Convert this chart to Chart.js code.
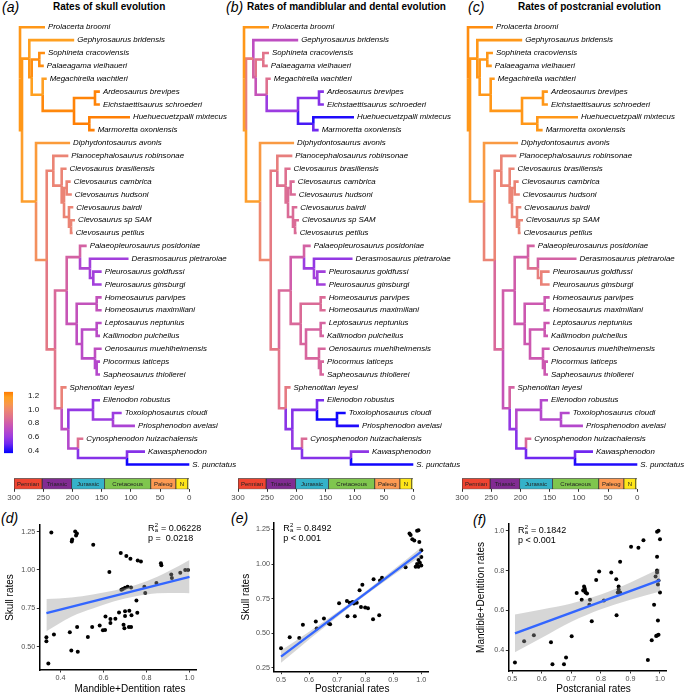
<!DOCTYPE html>
<html>
<head>
<meta charset="utf-8">
<title>Rates of evolution</title>
<script src="https://cdn.jsdelivr.net/npm/chart.js@4.4.1/dist/chart.umd.min.js"></script>
<style>
  html, body { margin: 0; padding: 0; background: #fff; }
  #fig { position: relative; width: 685px; height: 695px; overflow: hidden; font-family: "Liberation Sans", Arial, sans-serif; color: #000; }
  #fig canvas { position: absolute; }
  .txt { position: absolute; white-space: nowrap; }
  .letter { font-style: italic; font-size: 14px; line-height: 16px; }
  .head { font-weight: bold; font-size: 10px; line-height: 12px; }
</style>
</head>
<body>
<div id="fig">
  <div class="txt letter" style="left:2px;top:-1px">(a)</div>
  <div class="txt head" style="left:53px;top:1px">Rates of skull evolution</div>
  <div class="txt letter" style="left:226px;top:-1px">(b)</div>
  <div class="txt head" style="left:247px;top:1px">Rates of mandiblular and dental evolution</div>
  <div class="txt letter" style="left:468px;top:-1px">(c)</div>
  <div class="txt head" style="left:518px;top:1px">Rates of postcranial evolution</div>
  <div class="txt letter" style="left:1px;top:510px">(d)</div>
  <div class="txt letter" style="left:231px;top:510px">(e)</div>
  <div class="txt letter" style="left:473px;top:512px">(f)</div>

  <canvas id="treeA" width="245" height="478" style="left:0;top:0"></canvas>
  <canvas id="treeB" width="245" height="478" style="left:224px;top:0"></canvas>
  <canvas id="treeC" width="245" height="478" style="left:448px;top:0"></canvas>
  <canvas id="geoA" width="245" height="32" style="left:0;top:472px"></canvas>
  <canvas id="geoB" width="245" height="32" style="left:224px;top:472px"></canvas>
  <canvas id="geoC" width="245" height="32" style="left:448px;top:472px"></canvas>
  <canvas id="colorbar" width="40" height="85" style="left:0;top:380px"></canvas>
  <canvas id="scatD" width="228" height="192" style="left:0;top:505px"></canvas>
  <canvas id="scatE" width="228" height="192" style="left:228px;top:505px"></canvas>
  <canvas id="scatF" width="229" height="192" style="left:456px;top:505px"></canvas>
</div>
<script>
// ---------- tree data ----------
const tipNames = [
  "Prolacerta broomi", "Gephyrosaurus bridensis", "Sophineta cracoviensis", "Palaeagama vielhaueri",
  "Megachirella wachtleri", "Ardeosaurus brevipes", "Eichstaettisaurus schroederi", "Huehuecuetzpalli mixtecus",
  "Marmoretta oxoniensis", "Diphydontosaurus avonis", "Planocephalosaurus robinsonae", "Clevosaurus brasiliensis",
  "Clevosaurus cambrica", "Clevosaurus hudsoni", "Clevosaurus bairdi", "Clevosaurus sp SAM",
  "Clevosaurus petilus", "Palaeopleurosaurus posidoniae", "Derasmosaurus pietraroiae", "Pleurosaurus goldfussi",
  "Pleurosaurus ginsburgi", "Homeosaurus parvipes", "Homeosaurus maximiliani", "Leptosaurus neptunius",
  "Kallimodon pulchellus", "Oenosaurus muehlheimensis", "Piocormus laticeps", "Sapheosaurus thiollerei",
  "Sphenotitan leyesi", "Eilenodon robustus", "Toxolophosaurus cloudi", "Priosphenodon avelasi",
  "Cynosphenodon huizachalensis", "Kawasphenodon", "S. punctatus"
];
// tip ages (Ma)
const tipAges = [247, 197, 247, 249, 244, 153, 153, 101.5, 162, 204, 207, 210, 203, 201, 198.5, 195.6,
  199.6, 175.6, 104, 150, 150, 150, 150, 150, 152.8, 150, 152.8, 152.8, 210, 152.8, 115.7, 93, 181.4, 75.8, 0];

const nodeNames = ["root", "L", "A", "B", "SP", "C", "D", "E", "F", "R", "R2", "P", "CV", "CV2", "CH", "CB", "CB2",
  "Q", "Sap", "Pl", "Pl2", "PP", "HLO", "HO", "LO", "LK", "OE", "PS", "T", "U", "OP", "TP", "SK", "KS"];
const nodeAges = [289.7, 286.3, 273.8, 269.7, 256.7, 250.9, 197.3, 161.4, 171.1, 262.3, 244, 232.7, 218.4, 214.4,
  209.8, 205.9, 202.4, 229.8, 209.8, 187, 170, 164.3, 192.7, 158.5, 183.6, 158.5, 161.4, 158.5, 218.4, 207,
  164.8, 130.6, 190.5, 106.6];
const nodeChildren = [
  ["Prolacerta broomi", "L"], ["A", "R"], ["Gephyrosaurus bridensis", "B"], ["SP", "C"],
  ["Sophineta cracoviensis", "Palaeagama vielhaueri"], ["Megachirella wachtleri", "D"], ["E", "F"],
  ["Ardeosaurus brevipes", "Eichstaettisaurus schroederi"], ["Huehuecuetzpalli mixtecus", "Marmoretta oxoniensis"],
  ["Diphydontosaurus avonis", "R2"], ["P", "Q"], ["Planocephalosaurus robinsonae", "CV"],
  ["Clevosaurus brasiliensis", "CV2"], ["CH", "CB"], ["Clevosaurus cambrica", "Clevosaurus hudsoni"],
  ["Clevosaurus bairdi", "CB2"], ["Clevosaurus sp SAM", "Clevosaurus petilus"], ["Sap", "T"], ["Pl", "HLO"],
  ["Palaeopleurosaurus posidoniae", "Pl2"], ["Derasmosaurus pietraroiae", "PP"],
  ["Pleurosaurus goldfussi", "Pleurosaurus ginsburgi"], ["HO", "LO"],
  ["Homeosaurus parvipes", "Homeosaurus maximiliani"], ["LK", "OE"],
  ["Leptosaurus neptunius", "Kallimodon pulchellus"], ["Oenosaurus muehlheimensis", "PS"],
  ["Piocormus laticeps", "Sapheosaurus thiollerei"], ["Sphenotitan leyesi", "U"], ["OP", "SK"],
  ["Eilenodon robustus", "TP"], ["Toxolophosaurus cloudi", "Priosphenodon avelasi"],
  ["Cynosphenodon huizachalensis", "KS"], ["Kawasphenodon", "S. punctatus"]
];

// branch rates (tips, then internal nodes)
const skullTipRates = [1.2, 1.18, 1.22, 1.22, 1.17, 1.24, 1.24, 1.25, 1.25, 1.12, 0.98, 0.98, 0.98, 0.98, 0.98,
  0.98, 0.98, 0.82, 0.62, 0.62, 0.62, 0.74, 0.74, 0.7, 0.7, 0.72, 0.68, 0.68, 0.97, 0.58, 0.6, 0.65, 0.88, 0.55, 0.38];
const skullNodeRates = [1.2, 1.2, 1.2, 1.2, 1.22, 1.18, 1.23, 1.24, 1.25, 1.15, 1.04, 0.98, 0.98, 0.98, 0.98, 0.98,
  0.98, 0.92, 0.85, 0.82, 0.66, 0.62, 0.76, 0.74, 0.72, 0.7, 0.7, 0.68, 0.9, 0.72, 0.58, 0.6, 0.68, 0.55];
const mandTipRates = [1.2, 0.72, 0.9, 0.9, 0.88, 0.55, 0.55, 0.4, 0.5, 1.1, 0.95, 0.88, 0.86, 0.86, 0.86, 0.86,
  0.86, 0.82, 0.58, 0.62, 0.62, 0.86, 0.86, 0.83, 0.83, 0.84, 0.84, 0.84, 0.93, 0.52, 0.38, 0.4, 0.86, 0.57, 0.38];
const mandNodeRates = [1.2, 1.15, 0.95, 0.82, 0.9, 0.75, 0.6, 0.55, 0.45, 1.15, 1.0, 0.93, 0.88, 0.87, 0.86, 0.86,
  0.86, 0.92, 0.85, 0.8, 0.6, 0.62, 0.85, 0.86, 0.84, 0.83, 0.84, 0.84, 0.9, 0.56, 0.55, 0.38, 0.58, 0.55];
const postTipRates = [1.22, 1.2, 1.2, 1.2, 1.2, 1.2, 1.2, 1.2, 1.2, 1.1, 0.98, 0.98, 0.98, 0.98, 0.98, 0.98, 0.98,
  0.82, 0.82, 0.97, 0.97, 0.78, 0.78, 0.78, 0.78, 0.78, 0.78, 0.78, 0.82, 0.68, 0.68, 0.68, 0.85, 0.5, 0.4];
const postNodeRates = [1.22, 1.2, 1.2, 1.2, 1.2, 1.2, 1.2, 1.2, 1.2, 1.12, 0.98, 0.98, 0.98, 0.98, 0.98, 0.98, 0.98,
  0.85, 0.8, 0.8, 0.88, 0.95, 0.78, 0.78, 0.78, 0.78, 0.78, 0.78, 0.75, 0.58, 0.68, 0.68, 0.55, 0.5];

// colour scale
const rateRange = [0.36, 1.26];
const rateTicks = [0.4, 0.6, 0.8, 1.0, 1.2];
const rateStops = [0.36, 0.5, 0.6, 0.68, 0.78, 0.88, 1.0, 1.08, 1.18, 1.26];
const rateColors = ["#0000FF", "#7028F0", "#9C3CE0", "#B448CC", "#CC58B0", "#DE7090", "#EE8870", "#F8984C", "#FFA020", "#FF7A00"];

// geological timescale
const periodNames = ["Permian", "Triassic", "Jurassic", "Cretaceous", "Paleog", "N", ""];
const periodStart = [300, 251.9, 201.4, 145, 66, 23.03, 2.58];
const periodEnd = [251.9, 201.4, 145, 66, 23.03, 2.58, 0];
const periodColors = ["#EF4431", "#812B92", "#34B2C9", "#7FC64E", "#FD9A52", "#FFE619", "#F9F97F"];
const ageTicks = [300, 250, 200, 150, 100, 50, 0];

// ---------- scatter data ----------
// (d) skull vs mandible+dentition
const dPoints = [[0.357,1.244],[0.454,1.198],[0.452,1.185],[0.468,1.25],[0.476,1.238],[0.472,1.224],[0.552,1.164],
  [0.627,0.986],[0.68,1.11],[0.706,1.09],[0.725,1.072],[0.759,1.061],[0.774,1.055],[0.867,1.044],[0.869,1.03],
  [0.915,0.97],[0.918,0.947],[0.957,0.982],[0.98,1.0],[0.993,1.0],[0.846,0.915],[0.79,0.89],[0.794,0.85],
  [0.753,0.8],[0.712,0.89],[0.69,0.876],[0.7,0.884],[0.683,0.87],[0.728,0.885],[0.672,0.722],[0.7,0.73],
  [0.72,0.734],[0.757,0.72],[0.334,0.561],[0.334,0.535],[0.369,0.578],[0.343,0.39],[0.443,0.593],[0.45,0.475],
  [0.48,0.466],[0.477,0.627],[0.527,0.563],[0.547,0.627],[0.582,0.638],[0.597,0.607],[0.607,0.608],[0.609,0.696],
  [0.632,0.68],[0.655,0.682],[0.632,0.653],[0.693,0.643],[0.697,0.62],[0.718,0.627],[0.728,0.627],[0.7,0.7],[0.73,0.705]];
const dLine = [[0.334, 0.718], [1.0, 0.955]];
const dBandX = [0.334, 0.45, 0.55, 0.65, 0.75, 0.85, 0.95, 1.0];
const dBandHi = [0.81, 0.82, 0.84, 0.865, 0.902, 0.955, 1.025, 1.065];
const dBandLo = [0.6, 0.695, 0.748, 0.795, 0.828, 0.848, 0.85, 0.848];
const dXTicks = [0.4, 0.6, 0.8, 1.0];
const dYTicks = [0.5, 0.75, 1.0, 1.25];

// (e) skull vs postcranial
const ePoints = [[0.5,0.39],[0.531,0.47],[0.565,0.465],[0.578,0.56],[0.624,0.585],[0.627,0.533],[0.653,0.605],
  [0.67,0.57],[0.675,0.565],[0.737,0.623],[0.763,0.623],[0.828,0.6],[0.85,0.63],[0.707,0.717],[0.735,0.732],
  [0.745,0.72],[0.755,0.725],[0.76,0.715],[0.77,0.72],[0.785,0.69],[0.8,0.685],[0.81,0.68],[0.78,0.81],[0.79,0.85],
  [0.83,0.89],[0.853,0.88],[0.86,0.9],[0.944,0.977],[0.958,1.22],[0.962,1.21],[0.968,1.18],[0.975,1.17],[0.985,1.24],
  [0.99,1.245],[0.993,1.16],[1.0,1.1],[0.985,1.0],[0.99,0.98],[1.0,0.99],[0.99,1.03],[1.0,1.05],[0.995,1.01],[0.98,0.98]];
const eLine = [[0.5, 0.33], [1.0, 1.09]];
const eBandX = [0.5, 0.6, 0.7, 0.8, 0.9, 1.0];
const eBandHi = [0.375, 0.51, 0.651, 0.8, 0.958, 1.122];
const eBandLo = [0.285, 0.454, 0.617, 0.772, 0.918, 1.058];
const eXTicks = [0.5, 0.6, 0.7, 0.8, 0.9, 1.0];
const eYTicks = [0.25, 0.5, 0.75, 1.0, 1.25];

// (f) mandible+dentition vs postcranial
const fPoints = [[0.509,0.339],[0.54,0.446],[0.573,0.476],[0.631,0.441],[0.636,0.33],[0.675,0.33],[0.682,0.364],
  [0.701,0.471],[0.769,0.546],[0.853,0.576],[0.959,0.352],[0.972,0.451],[0.99,0.475],[0.995,0.478],[0.987,0.472],
  [0.993,0.55],[0.99,0.995],[0.995,1.0],[1.0,0.957],[0.944,0.952],[0.902,0.92],[0.927,0.914],[0.99,0.869],
  [0.865,0.844],[0.794,0.795],[0.835,0.79],[0.784,0.753],[0.852,0.757],[0.86,0.72],[0.86,0.705],[0.857,0.69],
  [0.865,0.69],[0.743,0.72],[0.745,0.71],[0.746,0.7],[0.748,0.69],[0.74,0.7],[0.753,0.685],[0.718,0.687],
  [0.735,0.654],[0.763,0.654],[0.81,0.65],[0.761,0.629],[0.99,0.8],[0.99,0.79],[0.985,0.77],[0.995,0.75],
  [0.993,0.73],[1.0,0.69],[0.98,0.629]];
const fLine = [[0.509, 0.485], [1.0, 0.752]];
const fBandX = [0.509, 0.6, 0.7, 0.8, 0.9, 1.0];
const fBandHi = [0.58, 0.605, 0.635, 0.68, 0.74, 0.81];
const fBandLo = [0.39, 0.463, 0.543, 0.606, 0.654, 0.695];
const fXTicks = [0.5, 0.6, 0.7, 0.8, 0.9, 1.0];
const fYTicks = [0.4, 0.6, 0.8, 1.0];

// ---------- helpers ----------
const FONT = '"Liberation Sans", Arial, sans-serif';
Chart.defaults.font.family = FONT;
Chart.defaults.animation = false;
Chart.defaults.responsive = false;
Chart.defaults.events = [];
Chart.defaults.plugins.legend.display = false;
Chart.defaults.plugins.tooltip.enabled = false;

function hexRgb(h) {
  return [parseInt(h.slice(1, 3), 16), parseInt(h.slice(3, 5), 16), parseInt(h.slice(5, 7), 16)];
}

function rateColor(v) {
  v = Math.min(Math.max(v, rateStops[0]), rateStops[rateStops.length - 1]);
  let i = 0;
  while (i < rateStops.length - 2 && v > rateStops[i + 1]) i++;
  const t = (v - rateStops[i]) / (rateStops[i + 1] - rateStops[i]);
  const a = hexRgb(rateColors[i]), b = hexRgb(rateColors[i + 1]);
  const c = a.map((x, k) => Math.round(x + (b[k] - x) * t));
  return `rgb(${c[0]},${c[1]},${c[2]})`;
}

// tree layout: tips in order, internal node at the middle of its children
const pos = {};
tipNames.forEach((n, i) => pos[n] = { age: tipAges[i], y: i + 1 });
function placeNode(name) {
  if (pos[name]) return pos[name].y;
  const i = nodeNames.indexOf(name);
  const ys = nodeChildren[i].map(placeNode);
  pos[name] = { age: nodeAges[i], y: (ys[0] + ys[ys.length - 1]) / 2 };
  return pos[name].y;
}
placeNode("root");

function treeEdges(tipRates, nodeRates) {
  const sets = [];
  nodeNames.forEach((p, i) => {
    nodeChildren[i].forEach(c => {
      const ti = tipNames.indexOf(c);
      const rate = ti >= 0 ? tipRates[ti] : nodeRates[nodeNames.indexOf(c)];
      sets.push({
        type: "line",
        data: [
          { x: pos[p].age, y: pos[p].y },
          { x: pos[p].age, y: pos[c].y },
          { x: pos[c].age, y: pos[c].y }
        ],
        borderColor: rateColor(rate),
        borderWidth: 2.6,
        borderJoinStyle: "miter",
        pointRadius: 0,
        fill: false,
        tension: 0,
        clip: false
      });
    });
  });
  return sets;
}

const tipLabels = {
  id: "tipLabels",
  afterDatasetsDraw(chart) {
    const { ctx, scales: { x, y } } = chart;
    ctx.save();
    ctx.font = "italic 7.9px " + FONT;
    ctx.fillStyle = "#000";
    ctx.textBaseline = "middle";
    tipNames.forEach((n, i) => ctx.fillText(n, x.getPixelForValue(tipAges[i]) + 3, y.getPixelForValue(i + 1)));
    ctx.restore();
  }
};

function drawTree(id, tipRates, nodeRates) {
  new Chart(document.getElementById(id), {
    type: "scatter",
    data: { datasets: treeEdges(tipRates, nodeRates) },
    options: {
      layout: { padding: { left: 14, right: 55.7, top: 27.3, bottom: 13.5 } },
      scales: {
        x: { type: "linear", min: 0, max: 300, reverse: true, display: false },
        y: { type: "linear", min: 1, max: tipNames.length, reverse: true, display: false }
      }
    },
    plugins: [tipLabels]
  });
}

const periodLabels = {
  id: "periodLabels",
  afterDatasetsDraw(chart) {
    const { ctx } = chart;
    ctx.save();
    ctx.font = "6px " + FONT;
    ctx.fillStyle = "#222";
    ctx.textAlign = "center";
    ctx.textBaseline = "middle";
    chart.data.datasets.forEach((ds, i) => {
      const bar = chart.getDatasetMeta(i).data[0];
      if (ds.label) ctx.fillText(ds.label, (bar.x + bar.base) / 2, bar.y + 0.5);
    });
    ctx.restore();
  }
};

function drawTimescale(id) {
  new Chart(document.getElementById(id), {
    type: "bar",
    data: {
      labels: ["age"],
      datasets: periodNames.map((n, i) => ({
        label: n,
        data: [[periodEnd[i], periodStart[i]]],
        backgroundColor: periodColors[i],
        borderColor: "#333",
        borderWidth: 0.8,
        borderSkipped: false,
        grouped: false,
        barPercentage: 1,
        categoryPercentage: 1
      }))
    },
    options: {
      indexAxis: "y",
      layout: { padding: { left: 14, right: 55.7, top: 6.3, bottom: 0 } },
      scales: {
        x: {
          type: "linear", min: 0, max: 300, reverse: true,
          afterBuildTicks: s => { s.ticks = ageTicks.map(v => ({ value: v })); },
          afterFit: s => { s.height = 14.7; },
          grid: { display: true, drawOnChartArea: false, tickLength: 2.5, color: "#333" },
          border: { display: false },
          ticks: { color: "#4D4D4D", font: { size: 8 }, padding: 1, maxRotation: 0, autoSkip: false }
        },
        y: { display: false }
      }
    },
    plugins: [periodLabels]
  });
}

function drawColorbar() {
  new Chart(document.getElementById("colorbar"), {
    type: "bar",
    data: {
      labels: ["rate"],
      datasets: [{
        data: [rateRange],
        backgroundColor: c => {
          const ca = c.chart.chartArea;
          if (!ca) return "#ccc";
          const g = c.chart.ctx.createLinearGradient(0, ca.bottom, 0, ca.top);
          rateStops.forEach((v, i) => g.addColorStop((v - rateRange[0]) / (rateRange[1] - rateRange[0]), rateColors[i]));
          return g;
        },
        borderWidth: 0,
        barPercentage: 1,
        categoryPercentage: 1
      }]
    },
    options: {
      layout: { padding: { left: 4, right: 0, top: 8, bottom: 8 } },
      scales: {
        x: { display: false },
        y: {
          type: "linear", position: "right", min: rateRange[0], max: rateRange[1],
          afterBuildTicks: s => { s.ticks = rateTicks.map(v => ({ value: v })); },
          afterFit: s => { s.width = 27; },
          grid: { display: false },
          border: { display: false },
          ticks: { color: "#111", font: { size: 8 }, padding: 7, callback: v => v.toFixed(1) }
        }
      }
    }
  });
}

const statText = {
  id: "statText",
  afterDraw(chart, args, o) {
    const { ctx, chartArea: ca, scales: { x, y } } = chart;
    const px = x.getPixelForValue(o.at[0]);
    const py = y.getPixelForValue(o.at[1]);
    ctx.save();
    ctx.fillStyle = "#000";
    ctx.textBaseline = "middle";
    ctx.font = "9px " + FONT;
    ctx.fillText("R", px, py);
    const wR = ctx.measureText("R").width;
    ctx.font = "6px " + FONT;
    ctx.fillText("2", px + wR + 0.3, py - 2.8);
    ctx.fillText("a", px + wR + 0.3, py + 2.6);
    const w2 = ctx.measureText("a").width;
    ctx.font = "9px " + FONT;
    ctx.fillText(" = " + o.r2, px + wR + w2 + 0.6, py);
    ctx.fillText(o.p, px, py + 10);
    ctx.font = "10px " + FONT;
    ctx.textAlign = "center";
    ctx.fillText(o.xTitle, (ca.left + ca.right) / 2 + o.xTitleShift, 184.5);
    ctx.restore();
  }
};

function axisOpts(range, ticks, digits) {
  return {
    type: "linear", min: range[0], max: range[1],
    afterBuildTicks: s => { s.ticks = ticks.map(v => ({ value: v })); },
    grid: { display: true, drawOnChartArea: false, tickLength: 2.5, color: "#333" },
    border: { display: true, color: "#000", width: 1.5 },
    ticks: { color: "#4D4D4D", font: { size: 7.2 }, padding: 1.5, maxRotation: 0, autoSkip: false,
      callback: v => v.toFixed(digits) }
  };
}

function drawScatter(id, cfg) {
  const el = document.getElementById(id);
  const W = el.width, H = el.height;
  const xs = axisOpts(cfg.xRange, cfg.xTicks, cfg.xDigits);
  xs.afterFit = s => { s.height = H - cfg.box.bottom; };
  const ys = axisOpts(cfg.yRange, cfg.yTicks, cfg.yDigits);
  ys.afterFit = s => { s.width = cfg.box.left; };
  ys.title = { display: true, text: cfg.yTitle, color: "#000", font: { size: 10 }, padding: { top: cfg.yTitlePad, bottom: 0 } };
  new Chart(el, {
    type: "scatter",
    data: {
      datasets: [
        { data: cfg.points.map(p => ({ x: p[0], y: p[1] })), pointRadius: 2, pointBackgroundColor: "#000",
          pointBorderWidth: 0, order: 3, clip: false },
        { type: "line", data: cfg.bandX.map((v, i) => ({ x: v, y: cfg.bandHi[i] })), borderWidth: 0,
          borderColor: "rgba(0,0,0,0)", pointRadius: 0, fill: "+1", backgroundColor: "rgba(153,153,153,0.4)",
          cubicInterpolationMode: "monotone", order: 2 },
        { type: "line", data: cfg.bandX.map((v, i) => ({ x: v, y: cfg.bandLo[i] })), borderWidth: 0,
          borderColor: "rgba(0,0,0,0)", pointRadius: 0, fill: false, cubicInterpolationMode: "monotone", order: 2 },
        { type: "line", data: cfg.line.map(p => ({ x: p[0], y: p[1] })), borderColor: "#3366FF", borderWidth: 2.4,
          pointRadius: 0, fill: false, order: 1 }
      ]
    },
    options: {
      layout: { padding: { left: 0, top: cfg.box.top, right: W - cfg.box.right, bottom: 0 } },
      scales: { x: xs, y: ys },
      plugins: { statText: cfg.stat }
    },
    plugins: [statText]
  });
}

// ---------- draw ----------
drawTree("treeA", skullTipRates, skullNodeRates);
drawTree("treeB", mandTipRates, mandNodeRates);
drawTree("treeC", postTipRates, postNodeRates);
drawTimescale("geoA");
drawTimescale("geoB");
drawTimescale("geoC");
drawColorbar();

drawScatter("scatD", {
  points: dPoints, line: dLine, bandX: dBandX, bandHi: dBandHi, bandLo: dBandLo,
  xRange: [0.301, 1.033], yRange: [0.347, 1.293], xTicks: dXTicks, yTicks: dYTicks, xDigits: 1, yDigits: 2,
  box: { left: 39.3, right: 196.6, top: 20, bottom: 165 }, yTitle: "Skull rates", yTitlePad: 4,
  stat: { at: [0.807, 1.273], r2: "0.06228", p: "p =  0.0218", xTitle: "Mandible+Dentition rates", xTitleShift: 12 }
});
drawScatter("scatE", {
  points: ePoints, line: eLine, bandX: eBandX, bandHi: eBandHi, bandLo: eBandLo,
  xRange: [0.475, 1.025], yRange: [0.221, 1.299], xTicks: eXTicks, yTicks: eYTicks, xDigits: 1, yDigits: 2,
  box: { left: 46, right: 200.3, top: 17.7, bottom: 166.7 }, yTitle: "Skull rates", yTitlePad: 12,
  stat: { at: [0.508, 1.259], r2: "0.8492", p: "p < 0.001", xTitle: "Postcranial rates", xTitleShift: 1 }
});
drawScatter("scatF", {
  points: fPoints, line: fLine, bandX: fBandX, bandHi: fBandHi, bandLo: fBandLo,
  xRange: [0.4865, 1.0227], yRange: [0.2965, 1.0335], xTicks: fXTicks, yTicks: fYTicks, xDigits: 1, yDigits: 1,
  box: { left: 52.3, right: 210.7, top: 19, bottom: 166 }, yTitle: "Mandible+Dentition rates", yTitlePad: 19,
  stat: { at: [0.5193, 1.0033], r2: "0.1842", p: "p < 0.001", xTitle: "Postcranial rates", xTitleShift: 6 }
});
</script>
</body>
</html>
